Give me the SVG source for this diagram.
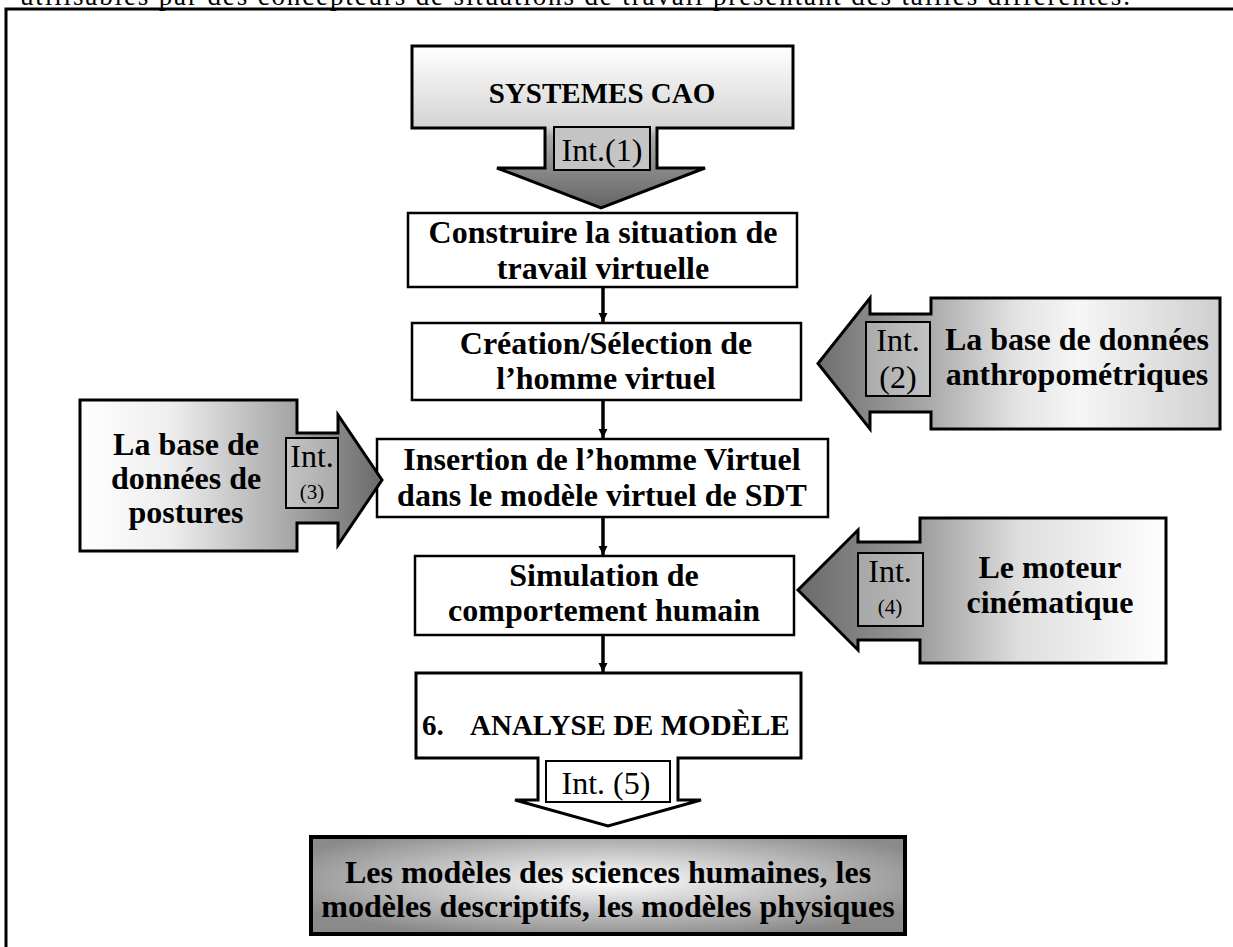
<svg xmlns="http://www.w3.org/2000/svg" width="1233" height="947" viewBox="0 0 1233 947">
  <style>
    .box{fill:#fff;stroke:#000;stroke-width:2.5}
    .co{stroke:#000;stroke-width:3;stroke-linejoin:miter}
    .ib{fill:#fff;fill-opacity:0.3;stroke:#000;stroke-width:2}
    .t{font-family:"Liberation Serif","Times New Roman",serif;font-weight:bold;font-size:32px;text-anchor:middle;fill:#000}
    .tc{font-family:"Liberation Serif","Times New Roman",serif;font-weight:bold;font-size:29px;fill:#000}
    .i{font-family:"Liberation Serif","Times New Roman",serif;font-size:32px;text-anchor:middle;fill:#000}
    .is{font-family:"Liberation Serif","Times New Roman",serif;font-size:21px;text-anchor:middle;fill:#000}
    .conn{stroke:#000;stroke-width:3.5;fill:none;marker-end:url(#ah)}
  </style>
  <defs>
    <marker id="ah" markerUnits="userSpaceOnUse" markerWidth="10" markerHeight="10" refX="9" refY="5" orient="auto">
      <path d="M0,0.5 L9,5 L0,9.5 Z" fill="#000"/>
    </marker>
    <linearGradient id="gDown" x1="0" y1="0" x2="0" y2="1">
      <stop offset="0" stop-color="#ffffff"/>
      <stop offset="0.5" stop-color="#d4d4d4"/>
      <stop offset="0.56" stop-color="#a8a8a8"/>
      <stop offset="1" stop-color="#646464"/>
    </linearGradient>
    <linearGradient id="gLeft2" x1="0" y1="0" x2="1" y2="0">
      <stop offset="0" stop-color="#6e6e6e"/>
      <stop offset="0.27" stop-color="#a8a8a8"/>
      <stop offset="0.5" stop-color="#e4e4e4"/>
      <stop offset="0.65" stop-color="#f6f6f6"/>
      <stop offset="1" stop-color="#cfcfcf"/>
    </linearGradient>
    <linearGradient id="gRight3" x1="0" y1="0" x2="1" y2="0">
      <stop offset="0" stop-color="#ffffff"/>
      <stop offset="0.3" stop-color="#eeeeee"/>
      <stop offset="0.7" stop-color="#a6a6a6"/>
      <stop offset="1" stop-color="#6a6a6a"/>
    </linearGradient>
    <linearGradient id="gLeft4" x1="0" y1="0" x2="1" y2="0">
      <stop offset="0" stop-color="#6a6a6a"/>
      <stop offset="0.3" stop-color="#959595"/>
      <stop offset="0.6" stop-color="#dedede"/>
      <stop offset="1" stop-color="#ffffff"/>
    </linearGradient>
    <radialGradient id="gRad" cx="0.5" cy="0.45" r="0.6">
      <stop offset="0" stop-color="#ffffff"/>
      <stop offset="1" stop-color="#8a8a8a"/>
    </radialGradient>
  </defs>

  <text x="20" y="5" font-family="'Liberation Serif','Times New Roman',serif" font-size="27" textLength="1110" lengthAdjust="spacing">utilisables par des concepteurs de situations de travail présentant des tailles différentes.</text>
  <path d="M6,947 V9 H1233" fill="none" stroke="#000" stroke-width="3"/>

  <g id="cao">
    <path class="co" fill="url(#gDown)" d="M412,46 H793 V128 H657 V168 H705 L601,208 L497,168 H545 V128 H412 Z"/>
    <text class="tc" x="602" y="103" text-anchor="middle">SYSTEMES CAO</text>
    <rect x="554" y="127" width="96" height="43" fill="#c4c4c4" stroke="#000" stroke-width="2"/>
    <text class="i" x="602" y="161">Int.(1)</text>
  </g>

  <g id="construire">
    <rect class="box" x="408" y="213" width="389" height="74"/>
    <text class="t" x="603" y="243">Construire la situation de</text>
    <text class="t" x="603" y="279">travail virtuelle</text>
  </g>

  <g id="creation">
    <rect class="box" x="412" y="323" width="389" height="77"/>
    <text class="t" x="606" y="354">Création/Sélection de</text>
    <text class="t" x="606" y="389">l’homme virtuel</text>
  </g>

  <g id="anthropo">
    <path class="co" fill="url(#gLeft2)" d="M1220,298 V429 H931 V412 H870 V429 L818,363.5 L870,298 V314 H931 V298 Z"/>
    <rect class="ib" x="866" y="322" width="64" height="74"/>
    <text class="i" x="898" y="351" font-size="33">Int.</text>
    <text class="i" x="898" y="388" font-size="33">(2)</text>
    <text class="t" x="1077" y="350">La base de données</text>
    <text class="t" x="1077" y="385">anthropométriques</text>
  </g>

  <g id="insertion">
    <rect class="box" x="377" y="439" width="451" height="78"/>
    <text class="t" x="602" y="470">Insertion de l’homme Virtuel</text>
    <text class="t" x="602" y="506">dans le modèle virtuel de SDT</text>
  </g>

  <g id="postures">
    <path class="co" fill="url(#gRight3)" d="M80,400 H297 V433 H338 V415 L382,480 L338,545 V523 H297 V551 H80 Z"/>
    <rect class="ib" x="286" y="438" width="52" height="70"/>
    <text class="i" x="312" y="467">Int.</text>
    <text class="is" x="312" y="499">(3)</text>
    <text class="t" x="186" y="455" font-size="30.5">La base de</text>
    <text class="t" x="186" y="489" font-size="30.5">données de</text>
    <text class="t" x="186" y="523" font-size="30.5">postures</text>
  </g>

  <g id="simulation">
    <rect class="box" x="415" y="556" width="379" height="79"/>
    <text class="t" x="604" y="586">Simulation de</text>
    <text class="t" x="604" y="621">comportement humain</text>
  </g>

  <g id="moteur">
    <path class="co" fill="url(#gLeft4)" d="M1166,518 V663 H920 V640 H858 V650 L798,590 L858,530 V542 H920 V518 Z"/>
    <rect class="ib" x="858" y="553" width="65" height="73"/>
    <text class="i" x="890" y="582">Int.</text>
    <text class="is" x="890" y="614">(4)</text>
    <text class="t" x="1050" y="578">Le moteur</text>
    <text class="t" x="1050" y="613">cinématique</text>
  </g>

  <g id="analyse">
    <path class="co" fill="#fff" stroke-width="2.5" d="M416,673 H801 V758 H678 V800 H701 L608,826 L515,800 H538 V758 H416 Z"/>
    <text class="tc" x="422" y="735">6.</text>
    <text class="tc" x="470" y="735">ANALYSE DE MODÈLE</text>
    <rect x="546" y="761" width="124" height="41" fill="#fff" stroke="#000" stroke-width="2"/>
    <text class="i" x="606" y="794" font-size="36">Int. (5)</text>
  </g>

  <g id="modeles">
    <rect x="311" y="837" width="594" height="97" fill="url(#gRad)" stroke="#000" stroke-width="4"/>
    <text class="t" x="608" y="883" font-size="29.5">Les modèles des sciences humaines, les</text>
    <text class="t" x="608" y="917" font-size="29.5">modèles descriptifs, les modèles physiques</text>
  </g>

  <g id="connectors">
    <line class="conn" x1="603" y1="287" x2="603" y2="322"/>
    <line class="conn" x1="603" y1="400" x2="603" y2="438"/>
    <line class="conn" x1="603" y1="517" x2="603" y2="555"/>
    <line class="conn" x1="603" y1="635" x2="603" y2="672"/>
  </g>
</svg>
